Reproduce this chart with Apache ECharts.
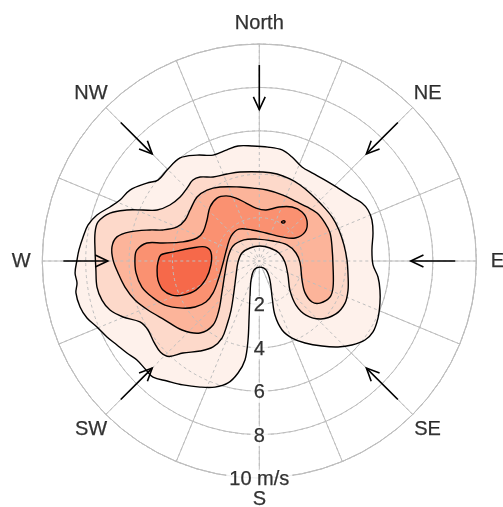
<!DOCTYPE html>
<html><head><meta charset="utf-8">
<script src="https://cdn.jsdelivr.net/npm/echarts@6/dist/echarts.min.js"></script>
<style>html,body{margin:0;padding:0;background:#fff}#c{width:503px;height:507px}</style>
</head><body><div id="c"></div>
<script>
// Contour outlines: points as [east, north] wind-vector components in m/s
const contour1 = [[-0.34,5.30],[0.40,5.25],[1.05,5.12],[1.51,4.79],[1.97,4.33],[2.43,4.06],[3.03,3.73],[3.63,3.36],[4.27,2.95],[4.73,2.67],[5.01,2.35],[5.19,1.89],[5.24,1.29],[5.19,0.51],[5.24,-0.18],[5.47,-0.74],[5.56,-1.34],[5.56,-1.94],[5.47,-2.63],[5.24,-3.27],[4.87,-3.64],[4.27,-3.87],[3.63,-3.96],[2.89,-3.92],[2.11,-3.78],[1.51,-3.55],[1.05,-3.18],[0.72,-2.49],[0.59,-1.66],[0.49,-0.88],[0.31,-0.41],[0.03,-0.28],[-0.24,-0.41],[-0.38,-0.88],[-0.43,-1.66],[-0.47,-2.58],[-0.52,-3.64],[-0.66,-4.56],[-0.98,-5.16],[-1.44,-5.62],[-2.04,-5.81],[-2.73,-5.81],[-3.52,-5.71],[-4.25,-5.53],[-4.90,-5.35],[-5.22,-5.02],[-5.64,-4.56],[-6.10,-4.24],[-6.56,-3.87],[-7.02,-3.50],[-7.48,-3.04],[-7.94,-2.63],[-8.26,-2.12],[-8.45,-1.47],[-8.40,-1.01],[-8.49,-0.55],[-8.40,0.05],[-8.31,0.51],[-8.12,1.11],[-7.89,1.66],[-7.48,2.12],[-6.88,2.49],[-6.42,2.81],[-5.96,3.27],[-5.18,3.59],[-4.67,3.73],[-4.25,4.19],[-3.65,4.75],[-2.87,4.88],[-2.13,4.88],[-1.49,5.12],[-0.98,5.30]];
const contour2 = [[-0.89,4.10],[0.17,4.10],[0.82,4.01],[1.41,3.78],[1.88,3.50],[2.38,3.09],[2.89,2.58],[3.35,2.03],[3.67,1.43],[3.90,0.74],[4.04,0.05],[4.09,-0.65],[4.09,-1.34],[3.95,-1.94],[3.53,-2.44],[2.84,-2.67],[2.15,-2.49],[1.69,-2.03],[1.41,-1.34],[1.32,-0.65],[1.18,-0.05],[0.91,0.37],[0.49,0.60],[0.03,0.69],[-0.43,0.60],[-0.80,0.37],[-0.98,-0.05],[-1.07,-0.65],[-1.17,-1.43],[-1.30,-2.26],[-1.49,-2.95],[-1.72,-3.55],[-2.13,-3.96],[-2.73,-4.15],[-3.52,-4.24],[-4.15,-4.40],[-4.55,-4.20],[-4.85,-3.75],[-5.13,-3.18],[-5.50,-2.81],[-6.28,-2.58],[-6.88,-2.26],[-7.25,-1.80],[-7.48,-1.20],[-7.53,-0.41],[-7.57,0.51],[-7.57,1.29],[-7.43,1.80],[-6.88,2.21],[-6.10,2.35],[-5.36,2.35],[-4.71,2.35],[-4.12,2.58],[-3.65,2.95],[-3.33,3.36],[-3.06,3.73],[-2.73,3.87],[-2.13,3.87],[-1.49,4.01]];
const contour3 = [[-6.74,0.05],[-6.79,0.65],[-6.56,1.11],[-5.96,1.34],[-5.04,1.43],[-4.44,1.43],[-3.79,1.57],[-3.42,1.89],[-3.19,2.35],[-2.87,2.95],[-2.41,3.27],[-1.81,3.41],[-0.89,3.41],[-0.29,3.36],[0.35,3.27],[1.09,3.04],[1.74,2.72],[2.20,2.49],[2.66,2.21],[3.03,1.75],[3.26,1.29],[3.35,0.65],[3.40,-0.28],[3.40,-1.20],[3.26,-1.66],[2.80,-1.94],[2.43,-1.89],[2.11,-1.47],[1.97,-0.88],[1.88,-0.09],[1.69,0.37],[1.28,0.74],[0.63,0.92],[-0.11,1.01],[-0.71,0.97],[-1.21,0.69],[-1.44,0.18],[-1.58,-0.55],[-1.72,-1.43],[-1.86,-2.26],[-2.13,-2.95],[-2.73,-3.32],[-3.56,-3.18],[-4.35,-2.72],[-5.13,-2.26],[-5.73,-1.80],[-6.19,-1.20],[-6.51,-0.55]];
const contour4 = [[-5.73,0.14],[-5.64,0.51],[-5.18,0.83],[-4.44,0.83],[-3.52,0.88],[-2.87,1.06],[-2.59,1.34],[-2.41,1.89],[-2.27,2.49],[-1.95,2.90],[-1.53,3.00],[-1.07,2.90],[-0.61,2.67],[-0.15,2.44],[0.31,2.35],[0.91,2.49],[1.51,2.49],[1.97,2.26],[2.20,1.84],[2.11,1.34],[1.65,1.06],[1.05,1.11],[0.31,1.29],[-0.34,1.43],[-0.94,1.47],[-1.30,1.15],[-1.49,0.60],[-1.67,-0.09],[-1.90,-0.88],[-2.13,-1.47],[-2.46,-1.89],[-2.96,-2.12],[-3.56,-2.17],[-4.35,-2.03],[-4.94,-1.66],[-5.41,-1.20],[-5.68,-0.55]];
const contour5 = [[-4.67,-0.05],[-4.53,0.28],[-4.02,0.41],[-3.10,0.60],[-2.50,0.65],[-2.23,0.41],[-2.23,-0.18],[-2.46,-0.83],[-2.92,-1.34],[-3.52,-1.57],[-4.02,-1.57],[-4.44,-1.34],[-4.67,-0.88],[-4.71,-0.41]];
const contour5b = [[1.02,1.79],[1.09,1.85],[1.18,1.83],[1.16,1.76],[1.08,1.75]];

const directionLabels = ['North','NE','E','SE','S','SW','W','NW'];
const directionAngles = [0,45,90,135,180,225,270,315];
const arrowDirections = [0,45,90,135,225,270,315];
const speedTicks = [2,4,6,8,10];
const speedTickLabels = ['2','4','6','8','10 m/s'];

// styling
const contours = [contour1, contour2, contour3, contour4, contour5, contour5b];
const bandColors = ['#FEF1EB','#FDD9CA','#FCB49A','#FA9171','#F6694A','#F6694A'];
const gridColor = '#BEBEBE';
const FONT = 'Liberation Sans, Arial, Helvetica, sans-serif';
const LABEL_GAP = 21;

function toPolar(p) {
  const r = Math.hypot(p[0], p[1]);
  const a = (Math.atan2(p[0], p[1]) * 180 / Math.PI + 360) % 360;
  return [r, a];
}

const chart = echarts.init(document.getElementById('c'), null, {renderer: 'canvas'});
const center = [259.3, 261];
const R = 217;

function polarAxes(idx, dashed, z) {
  const ls = dashed ? {color: gridColor, width: 1, type: [3, 3]} : {color: gridColor, width: 1};
  return {
    angle: {polarIndex: idx, type: 'value', min: 0, max: 360, interval: 22.5, startAngle: 90, clockwise: true, z: z,
      axisLine: {show: !dashed, lineStyle: {color: gridColor, width: 1}}, axisTick: {show: false}, axisLabel: {show: false},
      splitLine: {show: true, lineStyle: ls}},
    radius: {polarIndex: idx, type: 'value', min: 0, max: 10, interval: 2, z: z,
      axisLine: {show: false}, axisTick: {show: false}, axisLabel: {show: false},
      splitLine: {show: true, lineStyle: ls}}
  };
}
const ax0 = polarAxes(0, false, 0);
const ax1 = polarAxes(1, true, 3);

const labelStyle = {show: true, position: 'inside', formatter: '{b}', color: '#000', fontSize: 20, fontFamily: FONT,
  textBorderColor: '#000', textBorderWidth: 0.25};

const option = {
  animation: false,
  backgroundColor: '#fff',
  polar: [{center: center, radius: R}, {center: center, radius: R}],
  angleAxis: [ax0.angle, ax1.angle],
  radiusAxis: [ax0.radius, ax1.radius],
  series: [
    {
      type: 'custom', coordinateSystem: 'polar', polarIndex: 0, z: 2, silent: true,
      data: contours.map(() => [0, 0]),
      renderItem: (params, api) => {
        const pts = contours[params.dataIndex].map(p => api.coord(toPolar(p)));
        return {type: 'polygon', shape: {points: pts, smooth: 0.35}, style: {fill: bandColors[params.dataIndex], stroke: null}};
      }
    },
    {
      type: 'custom', coordinateSystem: 'polar', polarIndex: 0, z: 4, silent: true,
      data: contours.map(() => [0, 0]),
      renderItem: (params, api) => {
        const pts = contours[params.dataIndex].map(p => api.coord(toPolar(p)));
        return {type: 'polygon', shape: {points: pts, smooth: 0.35}, style: {fill: null, stroke: '#000', lineWidth: 1.4}};
      }
    },
    {
      type: 'custom', coordinateSystem: 'polar', polarIndex: 0, z: 5, silent: true,
      data: arrowDirections.map(d => [9, d]),
      renderItem: (params, api) => {
        const dir = arrowDirections[params.dataIndex];
        const a = api.coord([9.03, dir]), b = api.coord([6.98, dir]);
        const dx = b[0] - a[0], dy = b[1] - a[1], L = Math.hypot(dx, dy);
        const ux = -dx / L, uy = -dy / L;
        const hl = 14, t = 25 * Math.PI / 180;
        const rot = (x, y, th) => [x * Math.cos(th) - y * Math.sin(th), x * Math.sin(th) + y * Math.cos(th)];
        const l = rot(ux, uy, t), r = rot(ux, uy, -t);
        return {type: 'group', children: [
          {type: 'line', shape: {x1: a[0], y1: a[1], x2: b[0], y2: b[1]}, style: {stroke: '#000', lineWidth: 1.6}},
          {type: 'polyline', shape: {points: [[b[0] + l[0] * hl, b[1] + l[1] * hl], [b[0], b[1]], [b[0] + r[0] * hl, b[1] + r[1] * hl]]},
            style: {stroke: '#000', fill: null, lineWidth: 1.6}}
        ]};
      }
    },
    {
      type: 'scatter', coordinateSystem: 'polar', polarIndex: 0, z: 6, silent: true,
      symbolSize: 1, itemStyle: {color: 'rgba(0,0,0,0)'},
      data: directionLabels.map((t, i) => {
        const th = directionAngles[i] * Math.PI / 180;
        return {value: [10, directionAngles[i]], name: t,
          label: {offset: [LABEL_GAP * Math.sin(th), -LABEL_GAP * Math.cos(th) + 0.5]}};
      }),
      label: labelStyle
    },
    {
      type: 'scatter', coordinateSystem: 'polar', polarIndex: 0, z: 6, silent: true,
      symbolSize: 1, itemStyle: {color: 'rgba(0,0,0,0)'},
      data: speedTicks.map((v, i) => ({value: [v, 180], name: speedTickLabels[i]})),
      label: Object.assign({}, labelStyle, {backgroundColor: '#fff', padding: [0, 3], offset: [0, 1.5]})
    }
  ]
};
chart.setOption(option);
</script></body></html>
